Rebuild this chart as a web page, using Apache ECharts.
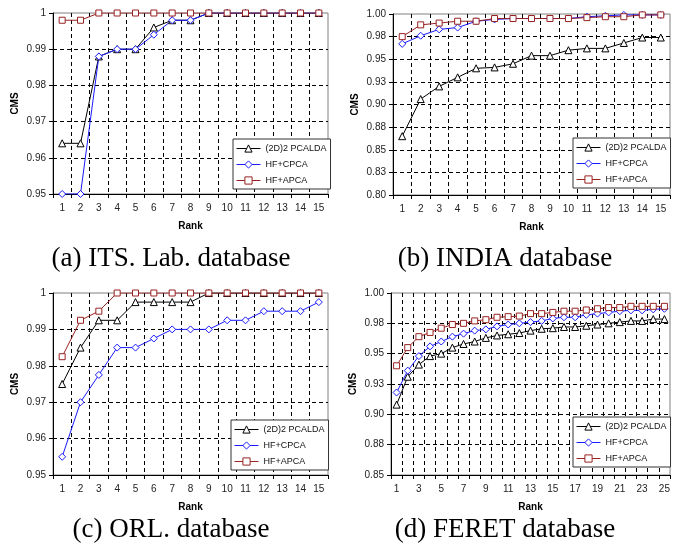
<!DOCTYPE html>
<html>
<head>
<meta charset="utf-8">
<script src="https://cdn.jsdelivr.net/npm/echarts@6.0.0/dist/echarts.min.js"></script>
<style>
  html, body { margin: 0; padding: 0; background: #fff; }
  #chart { width: 678px; height: 552px; }
</style>
</head>
<body>
<div id="chart"></div>
<script>
// ranks
const ranks15 = ['1','2','3','4','5','6','7','8','9','10','11','12','13','14','15'];
const ranks25 = ['1','2','3','4','5','6','7','8','9','10','11','12','13','14','15','16','17','18','19','20','21','22','23','24','25'];

const seriesNames = ['(2D)2 PCALDA', 'HF+CPCA', 'HF+APCA'];

// (a) ITS. Lab.
const itsPcalda = [0.964,0.964,0.988,0.990,0.990,0.996,0.998,0.998,1,1,1,1,1,1,1];
const itsCpca   = [0.950,0.950,0.988,0.990,0.990,0.994,0.998,0.998,1,1,1,1,1,1,1];
const itsApca   = [0.998,0.998,1,1,1,1,1,1,1,1,1,1,1,1,1];

// (b) INDIA
const indiaPcalda = [0.865,0.906,0.920,0.930,0.940,0.941,0.945,0.954,0.954,0.960,0.962,0.962,0.968,0.974,0.974];
const indiaCpca   = [0.967,0.976,0.983,0.985,0.992,0.994,0.995,0.995,0.995,0.995,0.997,0.998,0.999,0.999,0.999];
const indiaApca   = [0.975,0.988,0.990,0.992,0.992,0.995,0.995,0.995,0.995,0.995,0.996,0.997,0.997,0.999,0.999];

// (c) ORL.
const orlPcalda = [0.975,0.985,0.9925,0.9925,0.9975,0.9975,0.9975,0.9975,1,1,1,1,1,1,1];
const orlCpca   = [0.955,0.970,0.9775,0.985,0.985,0.9875,0.990,0.990,0.990,0.9925,0.9925,0.995,0.995,0.995,0.9975];
const orlApca   = [0.9825,0.9925,0.995,1,1,1,1,1,1,1,1,1,1,1,1];

// (d) FERET
const feretPcalda = [0.908,0.931,0.941,0.948,0.950,0.955,0.958,0.960,0.963,0.965,0.966,0.967,0.969,0.9705,0.971,0.972,0.972,0.973,0.974,0.975,0.976,0.977,0.977,0.9785,0.9785];
const feretCpca   = [0.918,0.936,0.948,0.956,0.960,0.964,0.9665,0.969,0.970,0.9725,0.974,0.975,0.976,0.977,0.979,0.980,0.980,0.982,0.983,0.984,0.985,0.9857,0.9857,0.9865,0.987];
const feretApca   = [0.940,0.955,0.964,0.9675,0.971,0.974,0.975,0.977,0.978,0.980,0.9805,0.981,0.983,0.983,0.984,0.985,0.985,0.986,0.987,0.988,0.988,0.989,0.989,0.989,0.989];

// y tick labels
const ticksHundredths = ['0.95','0.96','0.97','0.98','0.99','1'];
const ticksIndia = ['0.80','0.83','0.85','0.88','0.90','0.93','0.95','0.98','1.00'];
const ticksFeret = ['0.85','0.88','0.90','0.93','0.95','0.98','1.00'];

const captions = ['(a) ITS. Lab. database', '(b) INDIA database', '(c) ORL. database', '(d) FERET database'];

const panels = [
  {grid: {left: 53, top: 13, width: 275, height: 181}, ranks: ranks15, min: 0.95, max: 1, step: 0.01, ticks: ticksHundredths,
   data: [itsPcalda, itsCpca, itsApca], legend: {left: 233, top: 139}, caption: {x: 166, y: 240}},
  {grid: {left: 393, top: 14, width: 277, height: 181}, ranks: ranks15, min: 0.8, max: 1, step: 0.025, ticks: ticksIndia,
   data: [indiaPcalda, indiaCpca, indiaApca], legend: {left: 573, top: 138}, caption: {x: 500, y: 240}},
  {grid: {left: 53, top: 293, width: 275, height: 182}, ranks: ranks15, min: 0.95, max: 1, step: 0.01, ticks: ticksHundredths,
   data: [orlPcalda, orlCpca, orlApca], legend: {left: 231, top: 420}, caption: {x: 166, y: 511}},
  {grid: {left: 391, top: 293, width: 279, height: 182}, ranks: ranks25, min: 0.85, max: 1, step: 0.025, ticks: ticksFeret,
   data: [feretPcalda, feretCpca, feretApca], legend: {left: 573, top: 417}, caption: {x: 500, y: 511}, labelEvery: 1}
];

// hollow markers: white fill, coloured outline
const styles = [
  {symbol: 'triangle', size: 7, color: '#000000'},
  {symbol: 'diamond', size: 7, color: '#1a1aff'},
  {symbol: 'rect', size: 6, color: '#992222'}
];

const dash = [4, 3];
const grids = [], xAxes = [], yAxes = [], series = [], legends = [], titles = [];

panels.forEach((p, i) => {
  grids.push(Object.assign({show: true, borderColor: '#808080', borderWidth: 1, backgroundColor: 'transparent'}, p.grid));
  xAxes.push({
    type: 'category', gridIndex: i, data: p.ranks, boundaryGap: true,
    name: 'Rank', nameLocation: 'middle', nameGap: 27,
    nameTextStyle: {fontFamily: 'Liberation Sans', fontWeight: 'bold', fontSize: 10, color: '#000'},
    axisLine: {lineStyle: {color: '#000', width: 1}},
    axisTick: {show: true, interval: 0, length: 4, lineStyle: {color: '#000'}},
    axisLabel: {interval: p.labelEvery || 0, fontFamily: 'Liberation Sans', fontSize: 10, color: '#222', margin: 9},
    splitLine: {show: true, interval: 0, showMinLine: false, showMaxLine: false, lineStyle: {color: '#000', type: dash, width: 1}}
  });
  yAxes.push({
    type: 'value', gridIndex: i, min: p.min, max: p.max, interval: p.step,
    name: 'CMS', nameLocation: 'middle', nameGap: 33, nameRotate: 90,
    nameTextStyle: {fontFamily: 'Liberation Sans', fontWeight: 'bold', fontSize: 10, color: '#000'},
    axisLine: {show: true, lineStyle: {color: '#000', width: 1}},
    axisTick: {show: true, length: 4, lineStyle: {color: '#000'}},
    axisLabel: {fontFamily: 'Liberation Sans', fontSize: 10, color: '#222', margin: 7,
      formatter: v => p.ticks[Math.round((v - p.min) / p.step)]},
    splitLine: {show: true, showMinLine: false, showMaxLine: false, lineStyle: {color: '#000', type: dash, width: 1}}
  });
  p.data.forEach((vals, k) => {
    const s = styles[k];
    series.push({
      type: 'line', name: seriesNames[k], xAxisIndex: i, yAxisIndex: i, data: vals,
      symbol: s.symbol, symbolSize: s.size, showAllSymbol: true,
      itemStyle: {color: '#fff', borderColor: s.color, borderWidth: 1},
      lineStyle: {color: s.color, width: 1},
      animation: false
    });
  });
  legends.push({
    left: p.legend.left, top: p.legend.top, orient: 'vertical', data: seriesNames,
    selectedMode: false, backgroundColor: '#fff', borderColor: '#333', borderWidth: 1,
    padding: [5, 4, 4, 3], itemGap: 7, itemWidth: 24, itemHeight: 9,
    lineStyle: {width: 1},
    itemStyle: {borderWidth: 1},
    textStyle: {fontFamily: 'Liberation Sans', fontSize: 9, color: '#111'}
  });
  titles.push({
    text: captions[i], left: p.caption.x, top: p.caption.y, textAlign: 'center',
    textStyle: {fontFamily: 'Liberation Serif', fontWeight: 'normal', fontSize: 27, color: '#000'}
  });
});

const chart = echarts.init(document.getElementById('chart'), null, {renderer: 'canvas'});
chart.setOption({
  animation: false,
  backgroundColor: '#fff',
  title: titles,
  grid: grids,
  xAxis: xAxes,
  yAxis: yAxes,
  legend: legends,
  series: series
});
</script>
</body>
</html>
